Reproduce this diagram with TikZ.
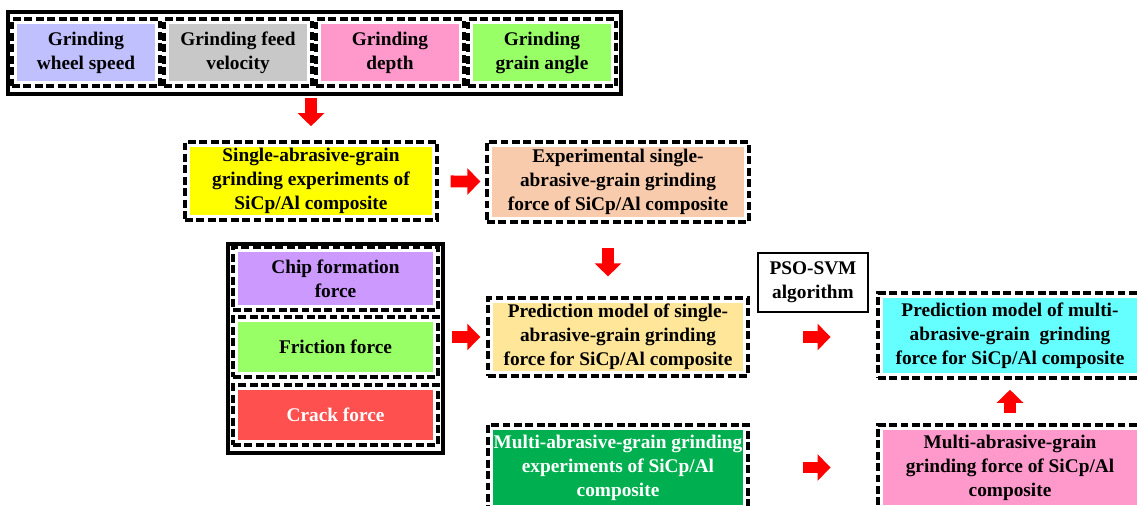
\documentclass[tikz,border=0pt]{standalone}
\usepackage{fontspec}
\setmainfont{Liberation Serif}
\usetikzlibrary{
  arrows.meta,
  calc,
  positioning
}

\definecolor{speedblue}{RGB}{192,192,255}
\definecolor{feedgray}{RGB}{200,200,200}
\definecolor{depthpink}{RGB}{255,153,204}
\definecolor{anglegreen}{RGB}{153,255,102}
\definecolor{expyellow}{RGB}{255,255,0}
\definecolor{exppeach}{RGB}{248,203,173}
\definecolor{chippurple}{RGB}{204,153,255}
\definecolor{crackred}{RGB}{255,80,80}
\definecolor{predyellow}{RGB}{255,230,153}
\definecolor{multigreen}{RGB}{0,176,80}
\definecolor{modelcyan}{RGB}{102,255,255}
\definecolor{arrowred}{RGB}{255,0,0}

\begin{document}
\begin{tikzpicture}[x=0.02cm, y=-0.02cm]

\tikzset{
  gbox/.style={
    draw,
    dash pattern=on 4.5pt off 2pt,
    line width=2pt,
    fill=white,
    inner sep=0pt,
    align=center,
    path picture={\fill[#1] ([shift={(3pt,-3pt)}]path picture bounding box.north west)
      rectangle ([shift={(-3pt,3pt)}]path picture bounding box.south east);}
  },
  group/.style={
    draw,
    line width=1.9pt,
    inner sep=0pt
  },
  algo/.style={
    draw,
    line width=0.8pt,
    fill=white,
    inner sep=0pt,
    align=center
  },
  flow/.style={
    ->,
    color=arrowred,
    line width=6.8pt
  },
  >={Triangle[length=7.4pt, width=14.7pt]},
  every node/.style={font=\bfseries\fontsize{11}{13.6}\selectfont}
}

\useasboundingbox (0,0) rectangle (1137,505);

% Nodes grinding parameters
\node[group, minimum width=12.26cm, minimum height=1.64cm] (params) at (314.5,53) {};
\node[gbox=speedblue,  minimum width=2.96cm, minimum height=1.34cm] (speed) at (86,52.5)  {Grinding\\wheel speed};
\node[gbox=feedgray,   minimum width=2.96cm, minimum height=1.34cm] (feed)  at (238,52.5) {Grinding feed\\velocity};
\node[gbox=depthpink,  minimum width=2.96cm, minimum height=1.34cm] (depth) at (390,52.5) {Grinding\\depth};
\node[gbox=anglegreen, minimum width=2.96cm, minimum height=1.34cm] (angle) at (542,52.5) {Grinding\\grain angle};

% Nodes single grain
\node[gbox=expyellow, minimum width=5.04cm, minimum height=1.56cm] (singleexp)   at (311,181) {Single-abrasive-grain\\grinding experiments of\\SiCp/Al composite};
\node[gbox=exppeach,  minimum width=5.24cm, minimum height=1.6cm]  (singleforce) at (618,182) {Experimental single-\\abrasive-grain grinding\\force of SiCp/Al composite};

% Nodes force components
\node[group, minimum width=4.3cm, minimum height=4.18cm] (forces) at (335.5,348.5) {};
\node[gbox=chippurple, minimum width=4.1cm, minimum height=1.26cm] (chip)     at (335.5,278.5) {Chip formation\\force};
\node[gbox=anglegreen, minimum width=4.1cm, minimum height=1.2cm]  (friction) at (335.5,347)   {Friction force};
\node[gbox=crackred,   minimum width=4.1cm, minimum height=1.2cm, text=white] (crack) at (335.5,415) {Crack force};

% Nodes models
\node[gbox=predyellow, minimum width=5.2cm, minimum height=1.56cm] (singlemodel) at (618,337) {Prediction model of single-\\abrasive-grain grinding\\force for SiCp/Al composite};
\node[gbox=multigreen, minimum width=5.2cm, minimum height=1.7cm, text=white] (multiexp) at (618,467.5) {Multi-abrasive-grain grinding\\experiments of SiCp/Al\\composite};
\node[algo, minimum width=2.2cm, minimum height=1.18cm] (psosvm) at (813,282.5) {PSO-SVM\\algorithm};
\node[gbox=modelcyan, minimum width=5.28cm, minimum height=1.7cm] (multimodel) at (1010,335.5) {Prediction model of multi-\\abrasive-grain\ \ grinding\\force for SiCp/Al composite};
\node[gbox=depthpink, minimum width=5.28cm, minimum height=1.7cm] (multiforce) at (1010,467.5) {Multi-abrasive-grain\\grinding force of SiCp/Al\\composite};

% Arrows
\draw[flow, shorten <=1.1pt, shorten >=8pt] (params.south -| singleexp.north) -- (singleexp.north);
\draw[flow, shorten <=6.8pt, shorten >=2.8pt] (singleexp) -- (singleforce);
\draw[flow, shorten <=14pt, shorten >=11.3pt] ($(singleforce.south)+(-10,0)$) -- ($(singlemodel.north)+(-10,0)$);
\draw[flow, shorten <=4pt, shorten >=3.4pt] (forces.east |- singlemodel.west) -- (singlemodel.west);
\draw[flow, shorten <=30.6pt, shorten >=26pt] (singlemodel.east) -- (singlemodel.east -| multimodel.west);
\draw[flow, shorten <=30.6pt, shorten >=26pt] (multiexp.east) -- (multiexp.east -| multiforce.west);
\draw[flow, shorten <=5.7pt, shorten >=5.7pt] (multiforce.north) -- (multiforce.north |- multimodel.south);

\end{tikzpicture}
\end{document}
